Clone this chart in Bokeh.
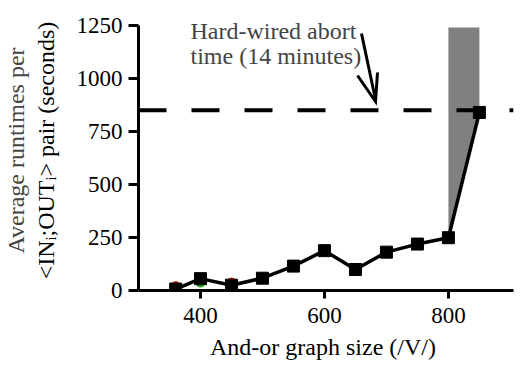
import math
from bokeh.plotting import figure
from bokeh.models import Label, Span, FixedTicker, Range1d, Title
from bokeh.embed import file_html
from bokeh.resources import INLINE

# ---- data ----
sizes = [360, 400, 450, 500, 550, 600, 650, 700, 750, 800, 850]
runtimes = [7, 56, 25, 58, 115, 188, 99, 181, 219, 249, 840]
band_x = [800, 850]
band_low = [249, 840]
band_high = [1240, 1240]
red_x = [360, 450]
red_y = [18, 35]
green_x = [400]
green_y = [40]
blue_x = [360]
blue_y = [0]
abort_time = 850
x_ticks = [400, 600, 800]
y_ticks = [0, 250, 500, 750, 1000, 1250]
x_label = "And-or graph size  (/V/)"
y_label_1 = "Average runtimes per"
y_label_2 = "<INᵢ;OUTᵢ> pair (seconds)"

FONT = "Liberation Serif"
W, H = 520, 369
FL, FT, FR, FB = 138, 10, 513, 290      # frame edges on the canvas
X0, X1 = 300, 905
SY = 265 / 1250                          # px per second
Y0, Y1 = 0, (FB - FT) / SY
sx = (FR - FL) / (X1 - X0)


def dx(px):
    return X0 + (px - FL) / sx


def dy(py):
    return Y0 + (FB - py) / SY


p = figure(width=W, height=H, output_backend="svg", toolbar_location=None,
           x_range=Range1d(X0, X1), y_range=Range1d(Y0, Y1),
           min_border_left=FL, min_border_right=W - FR, min_border_top=FT,
           min_border_bottom=H - FB)
p.outline_line_color = None
p.grid.visible = False

for ax in (p.xaxis[0], p.yaxis[0]):
    ax.axis_line_width = 3
    ax.axis_line_color = "black"
    ax.major_tick_line_width = 3
    ax.major_tick_line_color = "black"
    ax.major_tick_in = 0
    ax.minor_tick_line_color = None
    ax.major_label_text_font = FONT
    ax.major_label_text_font_size = "23px"
    ax.major_label_text_color = "black"
    ax.axis_label_text_font = FONT
    ax.axis_label_text_font_size = "24px"
    ax.axis_label_text_font_style = "normal"
    ax.axis_label_text_color = "black"
p.xaxis.ticker = FixedTicker(ticks=x_ticks)
p.yaxis.ticker = FixedTicker(ticks=y_ticks)
p.yaxis.bounds = (0, 1250)
p.xaxis.major_tick_out = 8
p.yaxis.major_tick_out = 10
p.xaxis.major_label_standoff = 9
p.yaxis.major_label_standoff = 6
p.xaxis.axis_label = x_label
p.xaxis.axis_label_standoff = 8
p.yaxis.axis_label = y_label_2
p.yaxis.axis_label_standoff = 15

p.add_layout(Title(text=y_label_1, text_font=FONT, text_font_size="24px",
                   text_font_style="normal", align="center", standoff=1), "left")

# gray band
p.varea(x=band_x, y1=band_low, y2=band_high, fill_color="#808080")

# partly hidden coloured series
p.scatter(blue_x, blue_y, size=10, color="#1010c0", marker="circle")
p.scatter(red_x, red_y, size=10, color="#e01010", marker="circle")
p.scatter(green_x, green_y, size=10, color="#10a010", marker="circle")

# main series
p.line(sizes, runtimes, line_color="black", line_width=3.5)
p.scatter(sizes, runtimes, marker="square", size=12, color="black")

# abort line
p.add_layout(Span(location=abort_time, dimension="width", line_color="black",
                  line_width=4, line_dash="28 25"))

# annotation text
p.add_layout(Label(x=dx(190), y=dy(30), text="Hard-wired abort", text_font=FONT,
                   text_font_size="24px", text_baseline="alphabetic"))
p.add_layout(Label(x=dx(190), y=dy(55), text="time (14 minutes)", text_font=FONT,
                   text_font_size="24px", text_baseline="alphabetic"))

# arrow drawn as lines
p.segment(x0=[dx(361)], y0=[dy(33)], x1=[dx(375)], y1=[dy(99)], line_width=3, line_color="black")
p.line(x=[dx(357), dx(375), dx(377)], y=[dy(75), dy(101), dy(72)], line_width=3,
       line_color="black", line_join="miter")

open("out.html", "w").write(file_html(p, INLINE))
